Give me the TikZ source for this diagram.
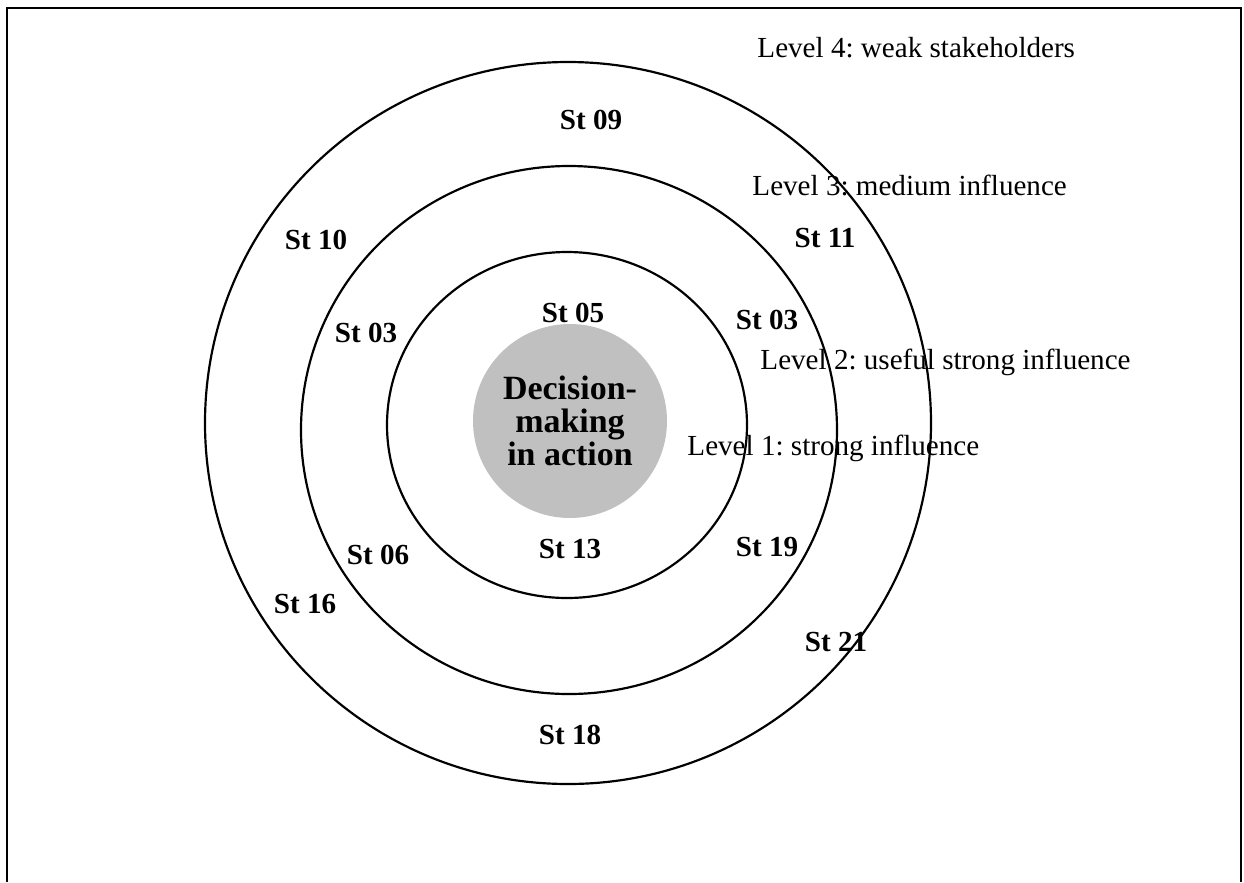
\documentclass[tikz,border=0pt]{standalone}
\usepackage{fontspec}
\setmainfont{Liberation Serif}
\usetikzlibrary{positioning}
\definecolor{coregray}{HTML}{C0C0C0}
\frenchspacing

\begin{document}
\begin{tikzpicture}[x=0.4124pt, y=-0.4124pt, ring/.style = {line width=0.9pt}, st/.style = {font=\fontsize{12}{14}\bfseries, inner sep=0pt}, lvl/.style = {font=\fontsize{12}{14}\selectfont, inner sep=0pt, anchor=west}]
            \useasboundingbox (0,0) rectangle (1244,882);
            % Frame
            \draw[line width=1.2pt] (7,882) -- (7,8) -- (1241,8) -- (1241,882);
            % Rings
            \draw[ring] (568,423) ellipse [x radius=363, y radius=361];
            \draw[ring] (569,430) ellipse [x radius=268, y radius=264];
            \draw[ring] (567,425) ellipse [x radius=180, y radius=173];
            % Core
            \node[circle, fill=coregray, minimum size=80pt, inner sep=0pt, align=center, font=\fontsize{14}{13.6}\bfseries] (core) at (570,421) {Decision-\\making\\in action};
            % Levels
            \node[lvl] (lv4) at (757,48) {Level 4: weak stakeholders};
            \node[lvl] (lv3) at (752,185) {Level 3: medium influence};
            \node[lvl] (lv2) at (760,362) {Level 2: useful strong influence};
            \node[lvl] (lv1) at (687,448) {Level 1: strong influence};
            % Stakeholders
            \node[st] (s09) at (591,120) {St 09};
            \node[st] (s11) at (825,238) {St 11};
            \node[st] (s10) at (316,240) {St 10};
            \node[st] (s03a) at (366,333) {St 03};
            \node[st] (s05) at (573,313) {St 05};
            \node[st] (s03b) at (767,320) {St 03};
            \node[st] (s06) at (378,555) {St 06};
            \node[st] (s13) at (570,549) {St 13};
            \node[st] (s19) at (767,547) {St 19};
            \node[st] (s16) at (305,604) {St 16};
            \node[st] (s21) at (836,642) {St 21};
            \node[st] (s18) at (570,735) {St 18};
            \end{tikzpicture}
\end{document}
